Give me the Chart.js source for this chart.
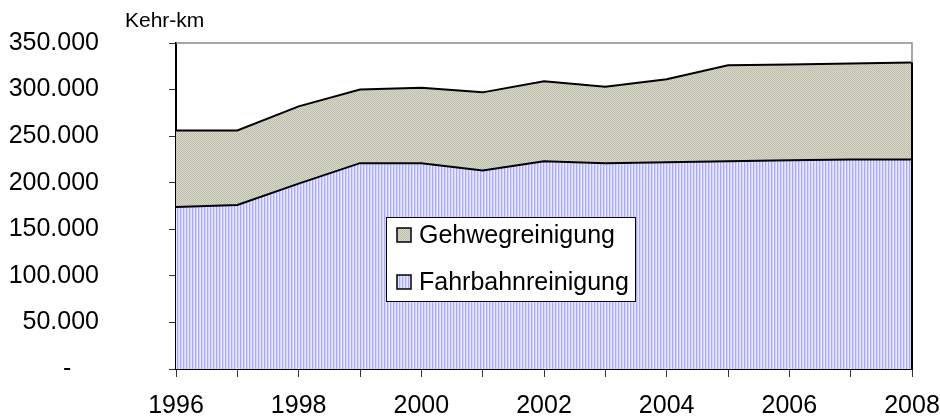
<!DOCTYPE html>
<html>
<head>
<meta charset="utf-8">
<script src="https://cdn.jsdelivr.net/npm/chart.js@4/dist/chart.umd.min.js"></script>
<style>
  html, body { margin: 0; padding: 0; background: #fff; }
  #wrap { width: 940px; height: 419px; }
</style>
</head>
<body>
<div id="wrap"><canvas id="chart" width="940" height="419"></canvas></div>
<script>
const years = ["1996", "1997", "1998", "1999", "2000", "2001", "2002", "2003", "2004", "2005", "2006", "2007", "2008"];
// Kehr-km
const fahrbahn = [174000, 176000, 199000, 221000, 221000, 213000, 223000, 221000, 222000, 223000, 224000, 225000, 225000];
const gehweg   = [82000, 80000, 83000, 79000, 81000, 84000, 86000, 82000, 89000, 103000, 103000, 103000, 104000];
const yTicks = [0, 50000, 100000, 150000, 200000, 250000, 300000, 350000];

const FONT = "Arial, 'Liberation Sans', sans-serif";

function makePattern(cols) {
  const c = document.createElement("canvas");
  c.width = cols[0].length;
  c.height = cols.length;
  const g = c.getContext("2d");
  cols.forEach((row, y) => row.forEach((col, x) => {
    g.fillStyle = col;
    g.fillRect(x, y, 1, 1);
  }));
  return document.getElementById("chart").getContext("2d").createPattern(c, "repeat");
}

// vertical stripes (blue) and fine checker (grey)
const bluePat = makePattern([["#ababfc", "#d4d4ff", "#e8e8ff"]]);
const greyPat = makePattern([["#bcbcac", "#dadacb"], ["#dadacb", "#bcbcac"]]);

function fmt(v) {
  if (v === 0) return "-    ";
  return String(v).replace(/\B(?=(\d{3})+(?!\d))/g, ".");
}

const extras = {
  id: "extras",
  afterDatasetsDraw(chart) {
    const { ctx, chartArea: a, scales } = chart;
    const last = years.length - 1;
    const topY = scales.y.getPixelForValue(fahrbahn[last] + gehweg[last]);
    ctx.save();
    // grey plot border top / right
    ctx.strokeStyle = "#8c8c8c";
    ctx.lineWidth = 1.5;
    ctx.beginPath();
    ctx.moveTo(a.left, a.top);
    ctx.lineTo(a.right, a.top);
    ctx.lineTo(a.right, a.bottom);
    ctx.stroke();
    // black closing edge of the areas
    ctx.strokeStyle = "#000";
    ctx.lineWidth = 2;
    ctx.beginPath();
    ctx.moveTo(a.right, topY);
    ctx.lineTo(a.right, a.bottom);
    ctx.stroke();
    ctx.restore();
  },
  afterDraw(chart) {
    const { ctx } = chart;
    ctx.save();
    // unit label
    ctx.fillStyle = "#000";
    ctx.font = "21px " + FONT;
    ctx.textAlign = "left";
    ctx.textBaseline = "alphabetic";
    ctx.fillText("Kehr-km", 125, 27);

    // legend box inside the plot
    const bx = 386, by = 217, bw = 249, bh = 84;
    ctx.fillStyle = "#fff";
    ctx.fillRect(bx, by, bw, bh);
    ctx.strokeStyle = "#000";
    ctx.lineWidth = 1;
    ctx.strokeRect(bx + 0.5, by + 0.5, bw, bh);
    const items = [chart.data.datasets[1], chart.data.datasets[0]];
    items.forEach((ds, i) => {
      const cy = by + 18 + i * 47;
      ctx.fillStyle = ds.backgroundColor;
      ctx.fillRect(bx + 11, cy - 7, 14, 14);
      ctx.strokeStyle = "#000";
      ctx.lineWidth = 1.5;
      ctx.strokeRect(bx + 11, cy - 7, 14, 14);
      ctx.fillStyle = "#000";
      ctx.font = "25px " + FONT;
      ctx.textBaseline = "middle";
      ctx.fillText(ds.label, bx + 33, cy + 1);
    });
    ctx.restore();
  }
};

new Chart(document.getElementById("chart"), {
  type: "line",
  data: {
    labels: years,
    datasets: [
      {
        label: "Fahrbahnreinigung",
        data: fahrbahn,
        backgroundColor: bluePat,
        borderColor: "#000",
        borderWidth: 2,
        fill: "origin",
        pointRadius: 0,
        tension: 0
      },
      {
        label: "Gehwegreinigung",
        data: gehweg,
        backgroundColor: greyPat,
        borderColor: "#000",
        borderWidth: 2,
        fill: "-1",
        pointRadius: 0,
        tension: 0
      }
    ]
  },
  options: {
    responsive: false,
    animation: false,
    layout: { padding: { top: 43, right: 28, bottom: 0, left: 0 } },
    plugins: { legend: { display: false }, tooltip: { enabled: false } },
    scales: {
      x: {
        offset: false,
        border: { color: "#000", width: 2 },
        grid: { drawOnChartArea: false, drawTicks: true, tickLength: 8, color: "#333", lineWidth: 1 },
        ticks: {
          autoSkip: false,
          maxRotation: 0,
          padding: 14,
          color: "#000",
          font: { family: FONT, size: 25 },
          callback: (v, i) => (i % 2 === 0 ? years[i] : "")
        },
        afterFit: (s) => {
          s.height = 50;
          s.paddingLeft = 0;
          s.paddingRight = 27;
        }
      },
      y: {
        stacked: true,
        min: 0,
        max: 350000,
        border: { color: "#000", width: 2 },
        grid: { drawOnChartArea: false, drawTicks: true, tickLength: 7, color: "#333", lineWidth: 1 },
        afterBuildTicks: (s) => { s.ticks = yTicks.map((v) => ({ value: v })); },
        ticks: {
          padding: 70,
          color: "#000",
          font: { family: FONT, size: 25 },
          callback: (v) => fmt(v)
        },
        afterFit: (s) => {
          s.width = 176;
          // the big label gap would otherwise be added above/below the plot
          s.paddingTop = 13;
          s.paddingBottom = 13;
        }
      }
    }
  },
  plugins: [extras]
});
</script>
</body>
</html>
